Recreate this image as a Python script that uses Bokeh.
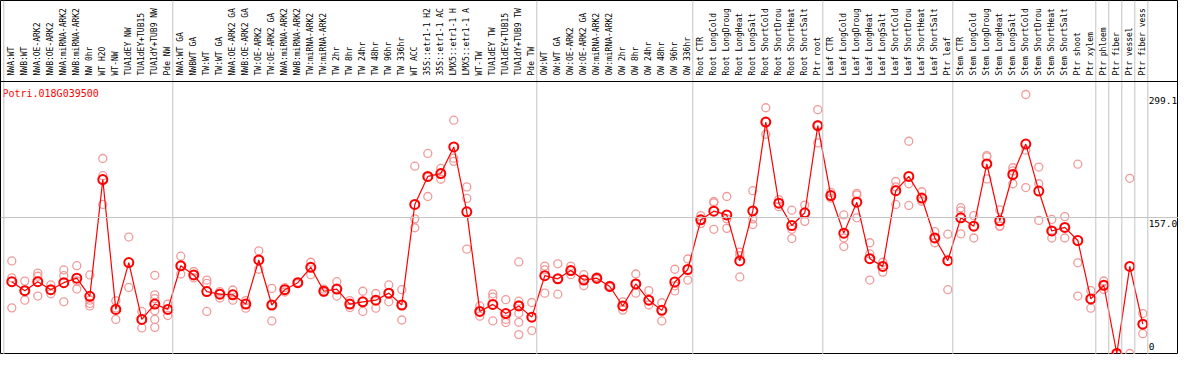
import numpy as np
from bokeh.plotting import figure
from bokeh.models import ColumnDataSource, Range1d, Span
from bokeh.core.properties import value
from bokeh.embed import file_html
from bokeh.resources import INLINE

gene_id = "Potri.018G039500"

# category labels as they are visible in the header
categories = [
    "NWA:WT", "NWB:WT", "NWA:OE-ARK2", "NWB:OE-ARK2", "NWA:miRNA-ARK2", "NWB:miRNA-ARK2",
    "NW 0hr", "WT H2O", "WT-NW", "TUA1dEY NW", "TUA1dEY+TUB15", "TUA1dY+TUB9 NW", "Pde NW",
    "NWA:WT GA", "NWBWT GA", "TW:WT", "TW:WT GA", "NWA:OE-ARK2 GA", "NWB:OE-ARK2 GA",
    "TW:OE-ARK2", "TW:OE-ARK2 GA", "NWA:miRNA-ARK2", "NWB:miRNA-ARK2", "TW:miRNA-ARK2",
    "TW:miRNA-ARK2", "TW 2hr", "TW 8hr", "TW 24hr", "TW 48hr", "TW 96hr", "TW 336hr", "WT ACC",
    "35S::etr1-1 H2", "35S::etr1-1 AC", "LMX5::etr1-1 H", "LMX5::etr1-1 A", "WT-TW",
    "TUA1dEY TW", "TUA1dEY+TUB15", "TUA1dY+TUB9 TW", "Pde TW",
    "OW:WT", "OW:WT GA", "OW:OE-ARK2", "OW:OE-ARK2 GA", "OW:miRNA-ARK2", "OW:miRNA-ARK2",
    "OW 2hr", "OW 8hr", "OW 24hr", "OW 48hr", "OW 96hr", "OW 336hr",
    "Root CTR", "Root LongCold", "Root LongDroug", "Root LongHeat", "Root LongSalt",
    "Root ShortCold", "Root ShortDrou", "Root ShortHeat", "Root ShortSalt", "Ptr root",
    "Leaf CTR", "Leaf LongCold", "Leaf LongDroug", "Leaf LongHeat", "Leaf LongSalt",
    "Leaf ShortCold", "Leaf ShortDrou", "Leaf ShortHeat", "Leaf ShortSalt", "Ptr leaf",
    "Stem CTR", "Stem LongCold", "Stem LongDroug", "Stem LongHeat", "Stem LongSalt",
    "Stem ShortCold", "Stem ShortDrou", "Stem ShortHeat", "Stem ShortSalt", "Ptr shoot",
    "Ptr xylem", "Ptr phloem", "Ptr fiber", "Ptr vessel", "Ptr fiber vess",
]

means = [
    82.9, 72.6, 82.9, 73.7, 81.8, 87.0, 66.0, 200.9, 50.9, 105.0, 39.4, 57.1, 50.9,
    101.3, 90.7, 71.5, 68.5, 67.8, 57.1, 108.0, 56.0, 73.7, 81.8, 99.5, 71.9, 74.4, 57.1,
    59.7, 61.6, 69.7, 56.0, 172.1, 204.5, 207.8, 238.5, 163.6, 48.6, 56.7, 46.1, 54.9, 42.0,
    89.9, 86.2, 95.8, 84.8, 87.0, 77.4, 54.9, 80.3, 61.6, 49.8, 82.6, 97.0,
    154.4, 164.4, 160.0, 106.9, 164.7, 267.2, 173.6, 147.8, 162.5, 263.1,
    182.4, 139.0, 174.7, 109.5, 100.6, 188.0, 204.5, 179.5, 133.4, 107.2,
    156.7, 147.0, 218.9, 153.3, 206.7, 241.8, 187.6, 141.5, 145.6, 130.5,
    63.0, 78.8, 0.0, 100.6, 33.9,
]

replicates = [
    [106.9, 87.3, 52.7], [83.6, 72.6, 61.6], [92.9, 89.2, 66.3], [79.2, 73.0, 68.9],
    [96.5, 89.9, 59.7], [101.4, 83.7, 74.4], [90.7, 61.6, 57.8, 54.9], [225.2, 205.3, 172.1],
    [60.8, 52.5, 39.4], [134.5, 76.3], [48.6, 39.4, 29.5], [90.3, 67.8, 63.4, 49.4, 39.4, 30.2],
    [57.1, 50.9, 43.9],
    [112.4, 101.3, 91.8], [94.7, 90.7, 87.3], [84.8, 81.0, 48.6], [71.5, 69.5, 64.1],
    [73.3, 68.5, 61.6], [61.1, 57.5, 52.3], [118.6, 108.0, 97.3], [75.2, 56.0, 37.6],
    [76.0, 73.7, 71.0], [82.5, 81.8, 80.8], [105.4, 99.5, 91.0], [74.4, 71.9, 70.7],
    [82.9, 74.4, 66.3], [61.1, 57.1, 53.1], [71.9, 59.7, 48.6], [69.3, 61.6, 52.3],
    [79.2, 69.7, 59.7], [73.7, 56.0, 38.7], [216.3, 155.5, 145.2], [231.0, 203.4, 181.3],
    [213.7, 207.8, 201.2], [269.4, 225.5, 221.9], [192.4, 179.1, 120.5], [54.9, 48.6, 43.1],
    [68.9, 65.2, 37.6], [62.2, 39.4, 35.7], [105.7, 60.4, 56.0, 46.4, 36.1, 21.8],
    [58.9, 42.0, 26.5],
    [101.0, 96.5, 69.7], [103.6, 86.2, 68.5], [101.0, 95.8, 91.0], [91.0, 84.8, 78.2],
    [88.5, 87.0, 85.5], [78.5, 77.4, 76.3], [59.7, 54.9, 50.1], [91.8, 80.3, 69.7],
    [72.6, 61.6, 56.0], [58.6, 49.8, 37.6], [97.3, 78.2, 72.3], [109.1, 97.0, 84.8],
    [159.2, 154.4, 150.0], [175.5, 174.0, 143.4], [181.3, 155.5, 144.5], [116.9, 113.1, 88.4],
    [188.0, 155.5, 148.9], [283.8, 267.2, 253.2], [177.7, 173.6, 169.5], [165.5, 143.4, 132.7],
    [171.4, 162.5, 152.6], [281.6, 264.2, 243.2],
    [186.1, 182.4, 179.5], [160.0, 133.4, 123.5], [185.0, 183.2, 156.7], [127.9, 115.0, 84.8],
    [105.4, 100.6, 94.0], [198.6, 192.4, 172.1], [245.1, 196.0, 171.0], [186.8, 179.5, 175.8],
    [140.7, 133.4, 127.9], [137.8, 107.2, 73.7],
    [168.4, 164.7, 138.2], [159.2, 147.0, 133.4], [228.5, 227.0, 201.6], [165.8, 147.4, 146.7],
    [214.5, 210.8, 196.0], [299.1, 234.8, 191.6], [215.3, 196.0, 153.7], [154.8, 141.5, 133.4],
    [158.1, 145.6, 133.4], [218.6, 104.7, 66.3],
    [72.6, 63.0, 52.3], [83.7, 78.8, 74.0], [0.0, 0.0, 0.0], [202.3, 0.0], [46.1, 33.9, 22.9],
]

ytick_values = [299.1, 157.0, 0.0]
ytick_labels = ["299.1", "157.0", "0"]
gridline_values = [157.0]
group_starts = [0, 13, 41, 53, 63, 73, 84, 85, 86, 87, 88]

# ---- layout (pixels inside the figure) ----
W, H = 1178, 354
HEADER = 81          # px: bottom of the label header
BOTTOM = 353         # px: value 0
YMAX = 314.1         # value at header line
S = (BOTTOM - HEADER) / YMAX
STEP = 13.0          # px per category
X0 = 11.3            # px of first category


def v_at(py):
    return (BOTTOM - py) / S


x_start = -X0 / STEP
x_end = x_start + W / STEP

p = figure(width=W, height=H,
           x_range=Range1d(x_start, x_end), y_range=Range1d(v_at(H), v_at(0)),
           output_backend="svg", toolbar_location=None, tools="",
           x_axis_location=None, y_axis_location=None, min_border=0)
p.grid.visible = False
p.outline_line_color = "black"
p.outline_line_width = 1
p.background_fill_color = "white"
p.border_fill_color = "white"

grey = "#c4c4c4"
for g in group_starts:
    p.add_layout(Span(location=g - 8.0 / STEP, dimension="height",
                      line_color=grey, line_width=1))
for gv in gridline_values:
    p.add_layout(Span(location=gv, dimension="width", line_color=grey, line_width=1))
p.add_layout(Span(location=YMAX, dimension="width", line_color="black", line_width=1))

idx = list(range(len(categories)))

# replicates
rx, ry = [], []
for i, reps in enumerate(replicates):
    for r in reps:
        rx.append(i)
        ry.append(r)
p.scatter(rx, ry, marker="circle", size=8, fill_color=None,
          line_color="#f09a9a", line_width=1.3)

# means
p.line(idx, means, line_color="red", line_width=1.2)
p.scatter(idx, means, marker="circle", size=9, fill_color=None,
          line_color="red", line_width=2)

# category labels in the header
lab_src = ColumnDataSource(dict(x=idx, y=[v_at(75)] * len(idx), text=categories))
p.text(x="x", y="y", text="text", source=lab_src, angle=np.pi / 2,
       text_align="left", text_baseline="middle",
       text_font=value("DejaVu Sans Mono"), text_font_size=value("8px"),
       text_color="black")

# title
p.text(x=[-0.72], y=[v_at(92.8)], text=[gene_id], text_align="left",
       text_baseline="middle", text_font=value("DejaVu Sans Mono"),
       text_font_size=value("10px"), text_color="red")

# value labels on the right
ty = []
for tv in ytick_values:
    py = BOTTOM - tv * S + 6
    py = min(py, BOTTOM - 7)
    ty.append(v_at(py))
p.text(x=[len(categories) - 0.55] * len(ytick_values), y=ty, text=ytick_labels,
       text_align="left", text_baseline="middle",
       text_font=value("DejaVu Sans Mono"), text_font_size=value("9.5px"),
       text_color="black")

open("out.html", "w").write(file_html(p, INLINE))
